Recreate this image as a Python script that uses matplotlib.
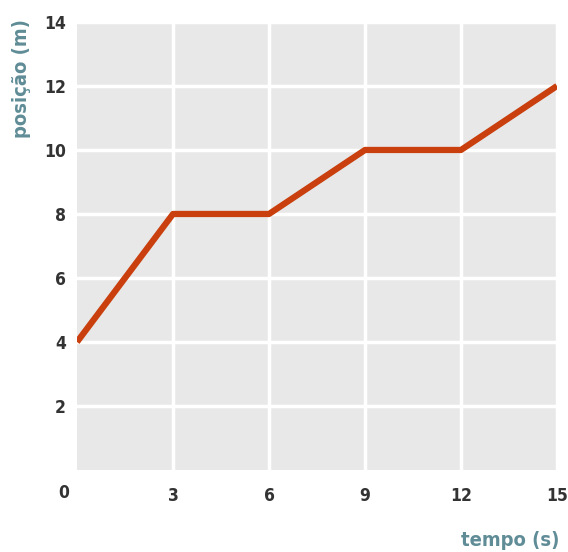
import matplotlib.pyplot as plt

tempo = [0, 3, 6, 9, 12, 15]
posicao = [4, 8, 8, 10, 10, 12]
xticks = [3, 6, 9, 12, 15]
yticks = [2, 4, 6, 8, 10, 12, 14]

font = ['DejaVu Sans']
tick_color = '#333333'
label_color = '#5f8c96'

fig = plt.figure(figsize=(5.68, 5.52), dpi=100)
ax = fig.add_axes([0.1356, 0.1486, 0.845, 0.8116])
ax.set_facecolor('#e8e8e8')

ax.plot(tempo, posicao, color='#c9400e', lw=4.5, solid_capstyle='butt', zorder=3)

ax.set_xlim(0, 15)
ax.set_ylim(0, 14)
ax.set_xticks(xticks)
ax.set_yticks(yticks)
ax.grid(True, color='white', lw=2.5)
ax.set_axisbelow(True)
for s in ax.spines.values():
    s.set_visible(False)
ax.tick_params(length=0, labelsize=12.5, labelcolor=tick_color)
ax.tick_params(axis='y', pad=8)
ax.tick_params(axis='x', pad=12)
for lab in ax.get_xticklabels() + ax.get_yticklabels():
    lab.set_family(font)
    lab.set_fontweight('bold')
    lab.set_fontstretch('condensed')

# "0" sits in the corner, shared by both axes
ax.text(-0.017, -0.052, '0', transform=ax.transAxes, ha='right', va='center',
        fontsize=12.5, fontweight='bold', fontstretch='condensed',
        color=tick_color, family=font)

fig.text(0.038, 0.965, 'posição (m)', rotation=90, ha='center', va='top',
         fontsize=14.5, fontweight='bold', fontstretch='condensed',
         color=label_color, family=font)
fig.text(0.985, 0.003, 'tempo (s)', ha='right', va='bottom',
         fontsize=14.5, fontweight='bold', fontstretch='condensed',
         color=label_color, family=font)

fig.savefig('out.png', dpi=100)
